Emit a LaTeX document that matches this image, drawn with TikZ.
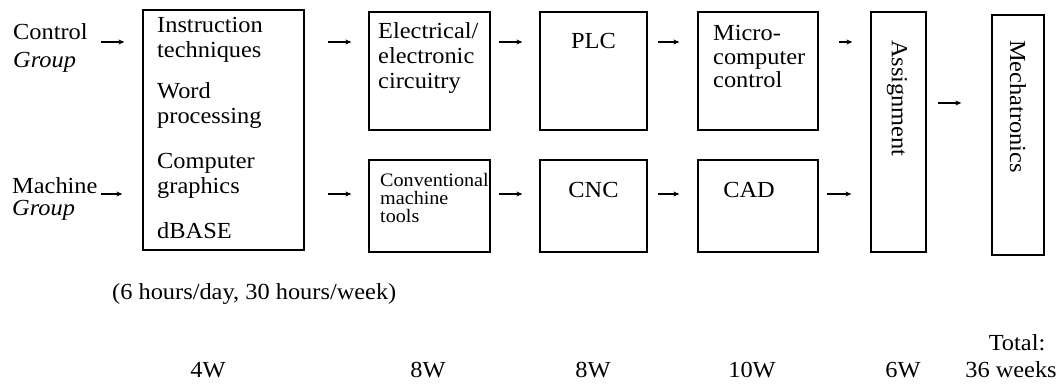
\documentclass[tikz,border=0pt]{standalone}
\usepackage{fontspec}
\setmainfont{Liberation Serif}[FakeStretch=1.06]
\usetikzlibrary{arrows.meta}

\begin{document}
\begin{tikzpicture}[x=1pt,y=-1pt,>={Stealth[length=6pt,width=5pt]},
  font=\fontsize{23}{25}\selectfont,
  box/.style={draw,line width=1.3pt,inner sep=0pt},
  txt/.style={inner sep=0pt,align=left},
  flow/.style={->,line width=1.1pt}]
  \useasboundingbox (0,0) rectangle (1060,387);
  \coordinate (top) at (0,42);
  \coordinate (bot) at (0,194);
  \coordinate (mid) at (0,103);
  % groups
  \node[txt,anchor=north west] (ctrl) at (13,23) {Control\\[3pt]\textit{Group}};
  \node[txt,anchor=north west] (mach) at (12,177) {Machine\\[-3pt]\textit{Group}};
  % course boxes
  \node[box,minimum width=161pt,minimum height=240pt] (instr) at (223.5,130) {};
  \node[box,minimum width=121pt,minimum height=118pt] (elec) at (429.5,71) {};
  \node[box,minimum width=107pt,minimum height=118pt] (plc) at (593.5,71) {};
  \node[box,minimum width=120pt,minimum height=118pt] (micro) at (758,71) {};
  \node[box,minimum width=121pt,minimum height=92pt] (conv) at (429.5,206) {};
  \node[box,minimum width=107pt,minimum height=92pt] (cnc) at (593.5,206) {};
  \node[box,minimum width=120pt,minimum height=92pt] (cad) at (758,206) {};
  \node[box,minimum width=55pt,minimum height=240pt] (assign) at (898.5,132) {};
  \node[box,minimum width=52pt,minimum height=240pt] (mech) at (1018,135) {};
  % box texts
  \node[txt,anchor=north west] (instrtxt) at (157,17)
    {Instruction\\techniques\\[16pt]Word\\processing\\[20pt]Computer\\graphics\\[20pt]dBASE};
  \node[txt,anchor=north west] (electxt) at (378,22) {Electrical/\\electronic\\circuitry};
  \node[txt,anchor=north] (plctxt) at (593.5,33) {PLC};
  \node[txt,anchor=north west] (microtxt) at (713,25) {Micro-\\[-1pt]computer\\[-2pt]control};
  \node[txt,anchor=north west,font=\fontsize{19}{18}\selectfont] (convtxt) at (380,173)
    {Conventional\\machine\\tools};
  \node[txt,anchor=north] (cnctxt) at (593.5,182) {CNC};
  \node[txt,anchor=north] (cadtxt) at (749,182) {CAD};
  \node[txt,anchor=west,rotate=-90] (assigntxt) at (897,40) {Assignment};
  \node[txt,anchor=west,rotate=-90] (mechtxt) at (1018,40) {Mechatronics};
  % arrows
  \foreach \a/\b/\s/\e/\r in {ctrl/instr/13/18/top, mach/instr/3/20/bot,
      instr/elec/23/17/top, elec/plc/8/17/top, plc/micro/10/18/top, micro/assign/20/18/top,
      instr/conv/23/17/bot, conv/cnc/8/17/bot, cnc/cad/10/18/bot, cad/assign/8/19/bot,
      assign/mech/11/30/mid}
    \draw[flow,shorten <=\s pt,shorten >=\e pt] (\a.east |- \r) -- (\b.west |- \r);
  % hours and weeks
  \node[txt,anchor=base west] (hours) at (112,299) {(6 hours/day, 30 hours/week)};
  \foreach \x/\w [count=\i] in {208/4W,428/8W,593/8W,752/10W,903/6W,1011/36 weeks}
    \node[txt,anchor=base] (wk\i) at (\x,377) {\w};
  \node[txt,anchor=base] (total) at (1017,350) {Total:};
\end{tikzpicture}
\end{document}
